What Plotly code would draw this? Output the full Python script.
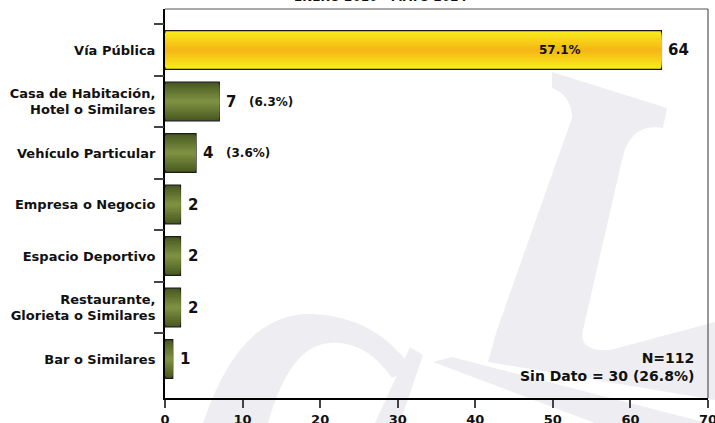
import plotly.graph_objects as go

# ---- data ----
categories = ["Vía Pública", "Casa de Habitación,<br>Hotel o Similares", "Vehículo Particular",
              "Empresa o Negocio", "Espacio Deportivo", "Restaurante,<br>Glorieta o Similares",
              "Bar o Similares"]
values = [64, 7, 4, 2, 2, 2, 1]
pct_inside = ["57.1%", "", "", "", "", "", ""]
pct_outside = ["", "(6.3%)", "(3.6%)", "", "", "", ""]
x_ticks = [0, 10, 20, 30, 40, 50, 60, 70]
title_text = "ENERO 2010 - MAYO 2024"
note_text = "N=112<br>Sin Dato = 30 (26.8%)"

FONT = "DejaVu Sans"
W, H = 715, 423
L, R, T, B = 165, 7, 9, 25

n = len(categories)
ypos = list(range(n - 1, -1, -1))  # first category at top

def lerp(c1, c2, t):
    a = [int(c1[i:i + 2], 16) for i in (1, 3, 5)]
    b = [int(c2[i:i + 2], 16) for i in (1, 3, 5)]
    return "rgb(%d,%d,%d)" % tuple(round(a[j] + (b[j] - a[j]) * t) for j in range(3))

yellow_edge, yellow_mid = "#F8EC1C", "#F6B816"
green_edge, green_mid = "#4A5A21", "#7D9041"

fig = go.Figure()
NL = 9
BW = 0.75
for k in range(NL):
    t = k / (NL - 1)
    w = BW * (1 - k / NL)
    colors = [lerp(yellow_edge, yellow_mid, t) if i == 0 else lerp(green_edge, green_mid, t)
              for i in range(n)]
    fig.add_trace(go.Bar(
        x=values, y=ypos, orientation="h", width=w,
        marker=dict(color=colors,
                    line=dict(color="#1a1a1a", width=1.2 if k == 0 else 0)),
        showlegend=False, hoverinfo="skip",
    ))

# invisible trace to carry boundary ticks on y2
fig.add_trace(go.Scatter(x=[None], y=[None], yaxis="y2", showlegend=False))

yr = [-0.757, 6.796]

# ---- watermark (decorative, pixel coords) ----
def px(x, y):
    return "%.4f,%.4f" % ((x - L) / (W - L - R), (H - B - y) / (H - T - B))

wm = "rgb(238,238,242)"
stem = ("M " + px(552, 72) + " L " + px(667, 108) + " L " + px(663, 128) +
        " Q " + px(630, 122) + " " + px(622, 160) + " L " + px(583, 330) +
        " Q " + px(578, 352) + " " + px(610, 350) + " L " + px(715, 322) +
        " L " + px(715, 400) + " L " + px(488, 362) + " L " + px(497, 330) +
        " L " + px(533, 228) + " L " + px(572, 118) + " Q " + px(572, 96) + " " + px(552, 88) + " Z")
arc = ("M " + px(203, 423) + " Q " + px(240, 312) + " " + px(312, 314) +
       " Q " + px(375, 316) + " " + px(412, 368) + " L " + px(392, 378) +
       " Q " + px(365, 340) + " " + px(330, 343) + " Q " + px(290, 345) + " " + px(268, 423) + " Z")
band = ("M " + px(410, 347) + " L " + px(423, 355) + " L " + px(400, 423) + " L " + px(375, 423) + " Z")
band2 = ("M " + px(433, 362) + " L " + px(452, 357) + " L " + px(715, 425) + " L " + px(600, 425) + " Z")
shapes = []
for p in (stem, arc, band, band2):
    shapes.append(dict(type="path", path=p, xref="paper", yref="paper",
                       fillcolor=wm, line=dict(width=0), layer="below"))

# frame top/right
shapes.append(dict(type="line", xref="paper", yref="paper", x0=0, x1=1, y0=1, y1=1,
                   line=dict(color="#555555", width=1.2)))
shapes.append(dict(type="line", xref="paper", yref="paper", x0=1, x1=1, y0=0, y1=1,
                   line=dict(color="#555555", width=1.2)))

def f(size):
    return dict(family=FONT, size=size, color="#111111", weight="bold")

annotations = []
for i in range(n):
    annotations.append(dict(x=values[i], y=ypos[i], xref="x", yref="y", text=str(values[i]),
                            showarrow=False, xanchor="left", xshift=5, font=f(15)))
    if pct_outside[i]:
        annotations.append(dict(x=values[i], y=ypos[i], xref="x", yref="y", text=pct_outside[i],
                                showarrow=False, xanchor="left", xshift=28, font=f(12)))
    if pct_inside[i]:
        annotations.append(dict(x=values[i], y=ypos[i], xref="x", yref="y", text=pct_inside[i],
                                showarrow=False, xanchor="right", xshift=-78, font=f(12)))

annotations.append(dict(x=1, y=0, xref="paper", yref="paper", text=note_text,
                        showarrow=False, xanchor="right", yanchor="bottom", align="right",
                        xshift=-12, yshift=12, font=f(14)))
annotations.append(dict(x=0.396, y=1, xref="paper", yref="paper", text=title_text,
                        showarrow=False, xanchor="center", yanchor="bottom", yshift=3,
                        font=f(12)))

fig.update_layout(
    width=W, height=H,
    margin=dict(l=L, r=R, t=T, b=B, pad=0, autoexpand=False),
    barmode="overlay",
    plot_bgcolor="rgba(0,0,0,0)", paper_bgcolor="white",
    shapes=shapes, annotations=annotations,
    xaxis=dict(range=[0, 70], tickvals=x_ticks, ticks="outside", ticklen=8, tickwidth=1.5,
               tickcolor="#444444", showgrid=False, zeroline=False, automargin=False,
               showline=True, linecolor="#000000", linewidth=2, ticklabeloverflow="allow",
               tickfont=f(13)),
    yaxis=dict(range=yr, tickvals=ypos, ticktext=categories, automargin=False,
               ticks="", showgrid=False, zeroline=False, ticklabelstandoff=5,
               showline=True, linecolor="#000000", linewidth=2,
               tickfont=f(13)),
    yaxis2=dict(range=yr, overlaying="y", side="left", tickvals=[k + 0.5 for k in range(n)],
                ticks="outside", ticklen=10, tickwidth=1.5, tickcolor="#444444", automargin=False,
                showticklabels=False, showgrid=False, zeroline=False, showline=False),
)

fig.write_html("out.html", config={"displayModeBar": False},
               post_script="document.body.style.margin='0';document.body.style.overflow='hidden';")
